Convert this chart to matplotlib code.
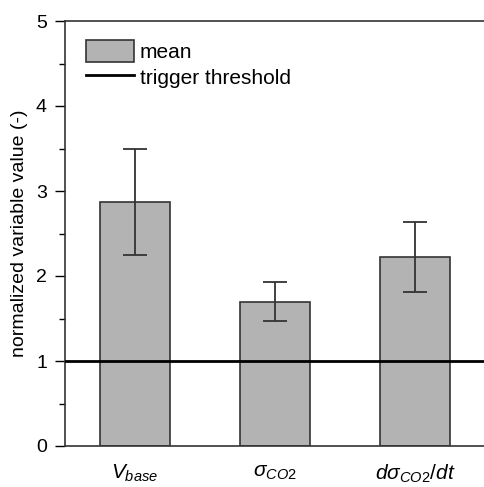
import matplotlib.pyplot as plt
import numpy as np
from matplotlib.patches import Patch
from matplotlib.lines import Line2D
from matplotlib.ticker import MultipleLocator

plt.rcParams['font.family'] = 'Liberation Sans'
plt.rcParams['mathtext.fontset'] = 'custom'
plt.rcParams['mathtext.rm'] = 'Liberation Sans'
plt.rcParams['mathtext.it'] = 'Liberation Sans:italic'

labels = [r'$V_{base}$', r'$\sigma_{CO2}$', r'$d\sigma_{CO2}/dt$']
means = [2.87, 1.70, 2.22]
errs = [0.62, 0.235, 0.41]
threshold = 1.0

fig = plt.figure(figsize=(4.84, 4.87), dpi=100)
ax = fig.add_axes([65/484, 41/487, 420/484, 425/487])

x = np.arange(1, len(means) + 1)
ax.bar(x, means, width=0.5, color='#b3b3b3', edgecolor='#333333', linewidth=1.2, zorder=2)
ax.errorbar(x, means, yerr=errs, fmt='none', ecolor='#333333', elinewidth=1.3,
            capsize=8.5, capthick=1.3, zorder=3)
ax.axhline(threshold, color='black', linewidth=2, zorder=4)

ax.set_xlim(0.5, 3.5)
ax.set_ylim(0, 5)
ax.set_xticks(x)
ax.set_xticklabels(labels, fontsize=15)
ax.yaxis.set_major_locator(MultipleLocator(1))
ax.yaxis.set_minor_locator(MultipleLocator(0.5))
ax.tick_params(axis='x', length=0, pad=12)
ax.tick_params(axis='y', which='major', direction='out', length=7, width=1, labelsize=14, pad=6)
ax.tick_params(axis='y', which='minor', direction='out', length=4, width=1)
for s in ax.spines.values():
    s.set_color('#333333')
    s.set_linewidth(1.2)
ax.set_ylabel('normalized variable value (-)', fontsize=14, labelpad=6)

handles = [Patch(facecolor='#b3b3b3', edgecolor='#333333', linewidth=1.2),
           Line2D([], [], color='black', linewidth=2)]
ax.legend(handles, ['mean', 'trigger threshold'], loc='upper left', frameon=False,
          fontsize=15, handlelength=2.3, handleheight=1.3, handletextpad=0.3,
          labelspacing=0.15, bbox_to_anchor=(0.005, 1.0))

fig.savefig('out.png', dpi=100)
